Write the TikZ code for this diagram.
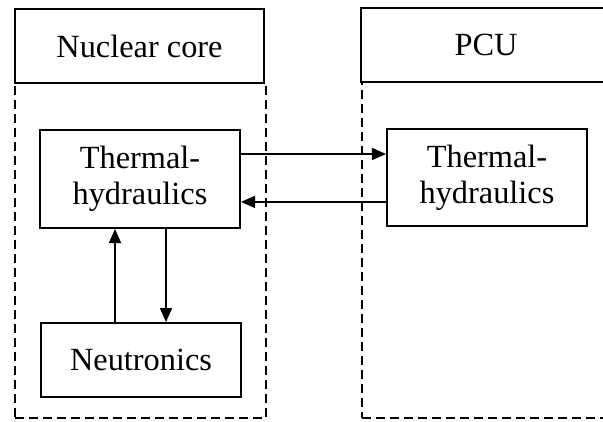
\documentclass[tikz,border=0pt]{standalone}
\usepackage{fontspec}
\setmainfont{Liberation Serif}
\usetikzlibrary{arrows.meta,positioning,calc}

\begin{document}
\begin{tikzpicture}[
  x=0.025cm, y=-0.025cm,
  font=\fontsize{23}{25.5}\selectfont,
  block/.style={draw, line width=1.4pt, align=center, inner sep=0pt, minimum width=50mm},
  header/.style={draw, line width=1.4pt, align=center, inner sep=0pt, minimum width=62.25mm, minimum height=18.5mm, fill=white},
  frame/.style={draw, dashed, line width=0.9pt, dash pattern=on 2.2mm off 1.3mm, inner sep=0pt},
  arr/.style={-{Triangle[length=3.5mm,width=3mm]}, line width=1.2pt}
]
\clip (0,0) rectangle (603,421);
\fill[white] (0,0) rectangle (603,421);

% dashed frames
\node[frame, minimum width=62.75mm, minimum height=83.75mm] (coreframe) at (140.5,250.5) {};
\node[frame, minimum width=62mm, minimum height=84mm] (pcuframe) at (486,250) {};

% headers
\node[header] (corehead) at (139.5,46) {Nuclear core};
\node[header] (pcuhead) at (486,45) {PCU};

% inner blocks
\node[block, minimum height=24.5mm] (lth) at (140,179) {Thermal-\\hydraulics};
\node[block, minimum height=18.5mm] (neu) at (141,360) {Neutronics};
\node[block, minimum height=24.25mm] (rth) at (487,177.5) {Thermal-\\hydraulics};

% couplings
\draw[arr] ([yshift=6.25mm]lth.east) -- ([yshift=6.25mm]lth.east -| rth.west);
\draw[arr] ([yshift=-6.1mm]rth.west) -- ([yshift=-6.1mm]rth.west -| lth.east);
\draw[arr] ([xshift=-6.25mm]lth.south |- neu.north) -- ([xshift=-6.25mm]lth.south);
\draw[arr] ([xshift=6.5mm]lth.south) -- ([xshift=6.5mm]lth.south |- neu.north);

\end{tikzpicture}
\end{document}
